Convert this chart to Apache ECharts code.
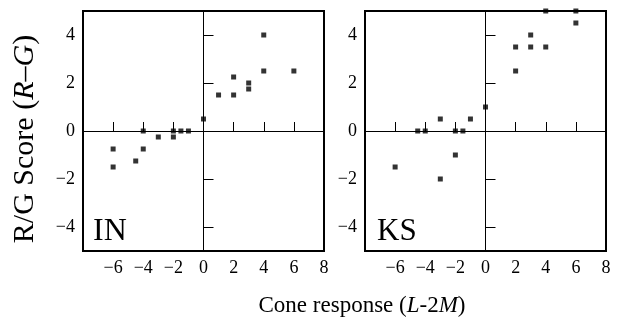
<!DOCTYPE html>
<html>
<head>
<meta charset="utf-8">
<script src="https://cdn.jsdelivr.net/npm/echarts@6/dist/echarts.min.js"></script>
<style>
  html, body { margin: 0; padding: 0; background: #fff; }
  #chart { width: 623px; height: 321px; }
</style>
</head>
<body>
<div id="chart"></div>
<script>
// Observer IN: cone response (L-2M) vs R/G score
const inX = [-6, -6, -4.5, -4, -4, -3, -2, -2, -1.5, -1, 0, 1, 2, 2, 3, 3, 4, 4, 6];
const inY = [-0.75, -1.5, -1.25, 0, -0.75, -0.25, 0, -0.25, 0, 0, 0.5, 1.5, 2.25, 1.5, 2, 1.75, 4, 2.5, 2.5];

// Observer KS
const ksX = [-6, -4.5, -4, -3, -3, -2, -2, -1.5, -1, 0, 2, 2, 3, 3, 4, 4, 6, 6];
const ksY = [-1.5, 0, 0, 0.5, -2, 0, -1, 0, 0.5, 1, 3.5, 2.5, 4, 3.5, 3.5, 5, 5, 4.5];

const panelNames = ['IN', 'KS'];
const xTicks = [-6, -4, -2, 0, 2, 4, 6, 8];
const yTicks = [-4, -2, 0, 2, 4];

const FONT = 'Liberation Serif';
const fmt = v => (v < 0 ? '\u2212' + Math.abs(v) : String(v));

function pairs(xs, ys) { return xs.map((x, i) => [x, ys[i]]); }

const grids = [
  { left: 83, top: 11, width: 241, height: 240 },
  { left: 365, top: 11, width: 241, height: 240 }
].map(g => Object.assign(g, { show: true, borderColor: '#000', borderWidth: 2, backgroundColor: '#fff' }));

const xAxes = grids.map((g, i) => ({
  gridIndex: i, type: 'value', min: -8, max: 8,
  axisLine: { show: false },
  splitLine: { show: false },
  axisTick: { show: true, inside: true, length: 9, customValues: xTicks, lineStyle: { color: '#000', width: 1 } },
  axisLabel: { customValues: xTicks, formatter: fmt, color: '#000', fontFamily: FONT, fontSize: 18, margin: 8 }
}));

const yAxes = grids.map((g, i) => ({
  gridIndex: i, type: 'value', min: -5, max: 5,
  axisLine: { show: false },
  splitLine: { show: false },
  axisTick: { show: true, inside: true, length: 10, customValues: yTicks, lineStyle: { color: '#000', width: 1 } },
  axisLabel: { customValues: yTicks, formatter: fmt, color: '#000', fontFamily: FONT, fontSize: 18, margin: 8 }
}));

const crossLines = {
  silent: true, symbol: 'none', animation: false,
  label: { show: false },
  lineStyle: { color: '#000', width: 1, type: 'solid' },
  data: [{ xAxis: 0 }, { yAxis: 0 }]
};

const series = [pairs(inX, inY), pairs(ksX, ksY)].map((d, i) => ({
  type: 'scatter', xAxisIndex: i, yAxisIndex: i,
  data: d, symbol: 'rect', symbolSize: 5,
  itemStyle: { color: '#000' },
  clip: false, z: 5,
  markLine: crossLines
}));

const chart = echarts.init(document.getElementById('chart'), null, { renderer: 'canvas' });
chart.setOption({
  animation: false,
  backgroundColor: '#fff',
  grid: grids,
  xAxis: xAxes,
  yAxis: yAxes,
  series: series,
  graphic: [
    { type: 'text', left: 93, top: 216, z: 10,
      style: { text: panelNames[0], font: '32px "' + FONT + '"', fill: '#000' } },
    { type: 'text', left: 377, top: 216, z: 10,
      style: { text: panelNames[1], font: '31px "' + FONT + '"', fill: '#000' } },
    { type: 'text', x: 362, y: 306, z: 10,
      style: {
        text: '{n|Cone response (}{i|L}{n|-2}{i|M}{n|)}',
        align: 'center', verticalAlign: 'middle',
        rich: {
          n: { fontFamily: FONT, fontSize: 23, fill: '#000' },
          i: { fontFamily: FONT, fontSize: 23, fontStyle: 'italic', fill: '#000' }
        }
      } },
    { type: 'text', x: 25, y: 139, rotation: Math.PI / 2, z: 10,
      style: {
        text: '{n|R/G Score (}{i|R}{n|\u2013}{i|G}{n|)}',
        align: 'center', verticalAlign: 'middle',
        rich: {
          n: { fontFamily: FONT, fontSize: 30, fill: '#000' },
          i: { fontFamily: FONT, fontSize: 30, fontStyle: 'italic', fill: '#000' }
        }
      } }
  ]
});
</script>
</body>
</html>
